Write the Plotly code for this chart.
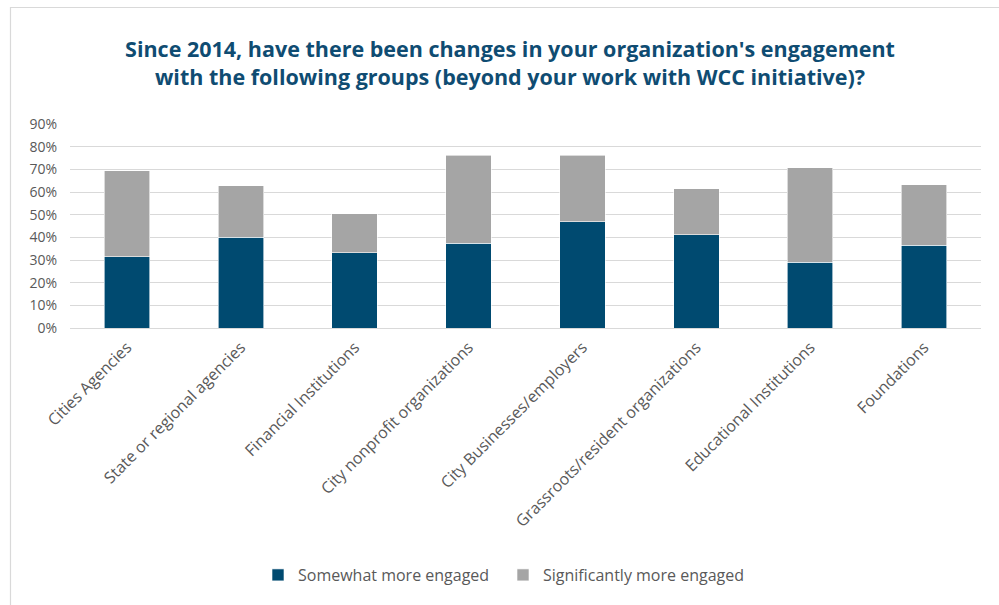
import plotly.graph_objects as go

# Survey categories and response shares (fraction of respondents)
categories = [
    "Cities Agencies",
    "State or regional agencies",
    "Financial Institutions",
    "City nonprofit organizations",
    "City Businesses/employers",
    "Grassroots/resident organizations",
    "Educational Institutions",
    "Foundations",
]
somewhat_more = [0.314, 0.401, 0.333, 0.374, 0.468, 0.411, 0.291, 0.366]
significantly_more = [0.380, 0.226, 0.171, 0.388, 0.295, 0.204, 0.415, 0.265]

series_names = ["Somewhat more engaged", "Significantly more engaged"]
y_ticks = [0, 0.1, 0.2, 0.3, 0.4, 0.5, 0.6, 0.7, 0.8, 0.9]

FONT = "'Open Sans', Lato, sans-serif"
TEXT_GRAY = "#595959"
GRID = "#d9d9d9"

fig = go.Figure()
fig.add_trace(go.Bar(
    x=categories, y=somewhat_more, name=series_names[0],
    marker=dict(color="#004a70", line=dict(color="#ffffff", width=0.6)),
))
fig.add_trace(go.Bar(
    x=categories, y=significantly_more, name=series_names[1],
    marker=dict(color="#a5a5a5", line=dict(color="#ffffff", width=0.6)),
))

W, H = 999, 605
ml, mr, mt, mb = 70, 18, 124, 277
pw, ph = W - ml - mr, H - mt - mb

def px_x(x):
    return (x - ml) / pw

def px_y(y):
    return (H - mb - y) / ph

fig.update_layout(
    width=W, height=H,
    margin=dict(l=ml, r=mr, t=mt, b=mb, pad=0),
    barmode="stack",
    bargap=0.6,
    plot_bgcolor="white",
    paper_bgcolor="white",
    font=dict(family=FONT, color=TEXT_GRAY, size=13),
    title=dict(
        text="Since 2014, have there been changes in your organization's engagement<br>"
             "with the following groups (beyond your work with WCC initiative)?",
        x=510 / W, xanchor="center", xref="container",
        y=1 - 57 / H, yanchor="middle", yref="container",
        font=dict(family=FONT, size=21.5, color="#0f4c72", weight="bold"),
    ),
    legend=dict(
        orientation="h",
        x=px_x(258), xanchor="left",
        y=px_y(575), yanchor="middle",
        font=dict(family=FONT, size=16, color=TEXT_GRAY),
        traceorder="normal",
        itemwidth=30,
        entrywidth=200,
    ),
    xaxis=dict(
        tickangle=-45,
        tickfont=dict(family=FONT, size=16, color=TEXT_GRAY),
        showgrid=False,
        showline=False,
        ticks="",
        ticklabelstandoff=6,
    ),
    yaxis=dict(
        range=[0, 0.9],
        tickvals=y_ticks,
        tickformat=".0%",
        showgrid=True,
        gridcolor=GRID,
        gridwidth=1.3,
        zeroline=True,
        zerolinecolor=GRID,
        zerolinewidth=1.3,
        tickfont=dict(family=FONT, size=14, color=TEXT_GRAY),
        ticks="",
        ticklabelstandoff=12,
    ),
    shapes=[dict(
        type="rect", xref="paper", yref="paper",
        x0=px_x(10.5), x1=px_x(1010), y0=px_y(620), y1=px_y(7.5),
        line=dict(color="#d9d9d9", width=1.2),
        fillcolor="rgba(0,0,0,0)", layer="below",
    )],
)

fig.write_html("out.html")
